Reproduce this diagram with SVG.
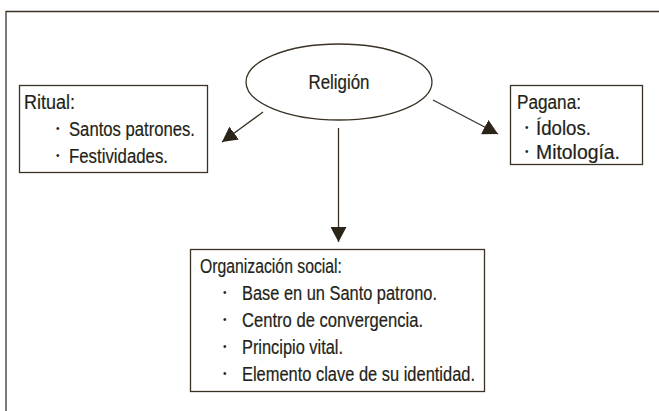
<svg xmlns="http://www.w3.org/2000/svg" width="659" height="411" viewBox="0 0 659 411">
<style>
.ln{stroke:#3a3226;stroke-width:1.3;fill:none}
.box{stroke:#3a3226;stroke-width:1.3;fill:#fff}
.t{font-family:"Liberation Sans",Arial,sans-serif;font-size:19.5px;fill:#241f18;stroke:#241f18;stroke-width:0.2}
.b{font-family:"Liberation Sans",Arial,sans-serif;font-size:10px;fill:#241f18}
</style>
<defs>
<marker id="ah" markerUnits="userSpaceOnUse" markerWidth="16" markerHeight="16" refX="15" refY="8" orient="auto" viewBox="0 0 16 16">
<path d="M0,0 L15,8 L0,16 z" fill="#2b2418"/>
</marker>
</defs>
<rect width="659" height="411" fill="#fff"/>
<g id="frame">
<path class="ln" d="M6,411 V11.5 H659" stroke-width="1.6"/>
</g>
<g id="connectors">
<line class="ln" x1="263" y1="112" x2="222" y2="142" marker-end="url(#ah)"/>
<line class="ln" x1="433" y1="100" x2="498" y2="134" marker-end="url(#ah)"/>
<line class="ln" x1="338.5" y1="128" x2="338.5" y2="242" marker-end="url(#ah)"/>
</g>
<g id="religion">
<ellipse class="box" cx="339" cy="82" rx="93" ry="38"/>
<text class="t" x="339" y="89" text-anchor="middle" font-size="18.5" textLength="61" lengthAdjust="spacingAndGlyphs">Religión</text>
</g>
<g id="ritual">
<rect class="box" x="19.5" y="85.5" width="188" height="87"/>
<text class="t" x="24" y="109" textLength="51" lengthAdjust="spacingAndGlyphs">Ritual:</text>
<text class="b" x="56" y="132">•</text>
<text class="t" x="69" y="136" textLength="126" lengthAdjust="spacingAndGlyphs">Santos patrones.</text>
<text class="b" x="56" y="159">•</text>
<text class="t" x="69" y="163" textLength="99" lengthAdjust="spacingAndGlyphs">Festividades.</text>
</g>
<g id="pagana">
<rect class="box" x="510.5" y="85.5" width="132" height="79"/>
<text class="t" x="517" y="109" textLength="64" lengthAdjust="spacingAndGlyphs">Pagana:</text>
<text class="b" x="525" y="131">•</text>
<text class="t" x="536" y="135" textLength="55" lengthAdjust="spacingAndGlyphs">Ídolos.</text>
<text class="b" x="525" y="155">•</text>
<text class="t" x="536" y="159" textLength="84" lengthAdjust="spacingAndGlyphs">Mitología.</text>
</g>
<g id="organizacion">
<rect class="box" x="190.5" y="249.5" width="294" height="142"/>
<text class="t" x="200" y="273" textLength="142" lengthAdjust="spacingAndGlyphs">Organización social:</text>
<text class="b" x="223" y="296">•</text>
<text class="t" x="242" y="300" textLength="195" lengthAdjust="spacingAndGlyphs">Base en un Santo patrono.</text>
<text class="b" x="223" y="323">•</text>
<text class="t" x="242" y="327" textLength="181" lengthAdjust="spacingAndGlyphs">Centro de convergencia.</text>
<text class="b" x="223" y="350">•</text>
<text class="t" x="242" y="354" textLength="101" lengthAdjust="spacingAndGlyphs">Principio vital.</text>
<text class="b" x="223" y="377">•</text>
<text class="t" x="242" y="381" textLength="233" lengthAdjust="spacingAndGlyphs">Elemento clave de su identidad.</text>
</g>
</svg>
